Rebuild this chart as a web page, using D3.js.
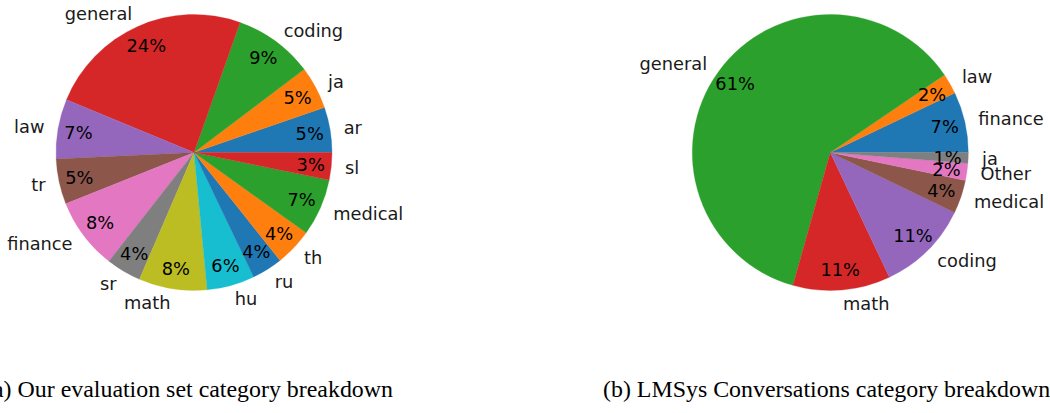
<!DOCTYPE html>
<html><head><meta charset="utf-8">
<script src="https://cdn.jsdelivr.net/npm/d3@7/dist/d3.min.js"></script>
<style>body{margin:0;background:#fff;} svg{display:block;}</style>
</head><body>
<svg id="c" width="1050" height="413"></svg>
<script>
// Left pie: "Our evaluation set"
const catsA = ["ar","ja","coding","general","law","tr","finance","sr","math","hu","ru","th","medical","sl"];
const valsA = [5.3,5.0,9.3,24.2,7.0,5.3,8.4,4.1,8.0,5.6,3.6,4.4,6.7,3.2];
// Right pie: "LMSys Conversations"
const catsB = ["finance","law","general","math","coding","medical","Other","ja"];
const valsB = [7.1,2.4,61.1,11.4,10.8,3.9,2.0,1.25];
const captions = ["(a) Our evaluation set category breakdown","(b) LMSys Conversations category breakdown"];
const tab10 = ["#1f77b4","#ff7f0e","#2ca02c","#d62728","#9467bd","#8c564b","#e377c2","#7f7f7f","#bcbd22","#17becf"];

const svg = d3.select("#c");

function drawPie(cx, cy, r, cats, vals) {
  const g = svg.append("g").attr("transform", `translate(${cx},${cy})`);
  const total = d3.sum(vals);
  // matplotlib: start at east, counter-clockwise
  const pie = d3.pie().sort(null).value(d => d.v)
    .startAngle(Math.PI/2).endAngle(Math.PI/2 - 2*Math.PI);
  const data = pie(cats.map((c,i)=>({c, v: vals[i], i})));
  const arc = d3.arc().innerRadius(0).outerRadius(r);
  g.selectAll("path").data(data).join("path")
    .attr("d", arc)
    .attr("fill", d => tab10[d.data.i % 10])
    .attr("stroke", d => tab10[d.data.i % 10])
    .attr("stroke-width", 0.3);
  data.forEach(d => {
    const mid = (d.startAngle + d.endAngle)/2;
    const sx = Math.sin(mid), sy = -Math.cos(mid);
    g.append("text")
      .attr("x", 1.1*r*sx).attr("y", 1.1*r*sy)
      .attr("text-anchor", sx > 0 ? "start" : "end")
      .attr("dominant-baseline", "central")
      .attr("font-family", "DejaVu Sans").attr("font-size", 17.8)
      .attr("fill", "#1a1a1a")
      .text(d.data.c);
    g.append("text")
      .attr("x", 0.85*r*sx).attr("y", 0.85*r*sy)
      .attr("text-anchor", "middle")
      .attr("dominant-baseline", "central")
      .attr("font-family", "DejaVu Sans").attr("font-size", 17.8)
      .attr("fill", "#000")
      .text(d3.format(".0f")(d.data.v/total*100) + "%");
  });
}

drawPie(194, 152.5, 138, catsA, valsA);
drawPie(830.3, 152.5, 138, catsB, valsB);

svg.append("text").attr("x", 393).attr("y", 397).attr("text-anchor","end")
  .attr("font-family","Liberation Serif").attr("font-size",23.9).attr("fill","#000")
  .text(captions[0]);
svg.append("text").attr("x", 603).attr("y", 397).attr("text-anchor","start")
  .attr("font-family","Liberation Serif").attr("font-size",23.9).attr("fill","#000")
  .text(captions[1]);
</script>
</body></html>
